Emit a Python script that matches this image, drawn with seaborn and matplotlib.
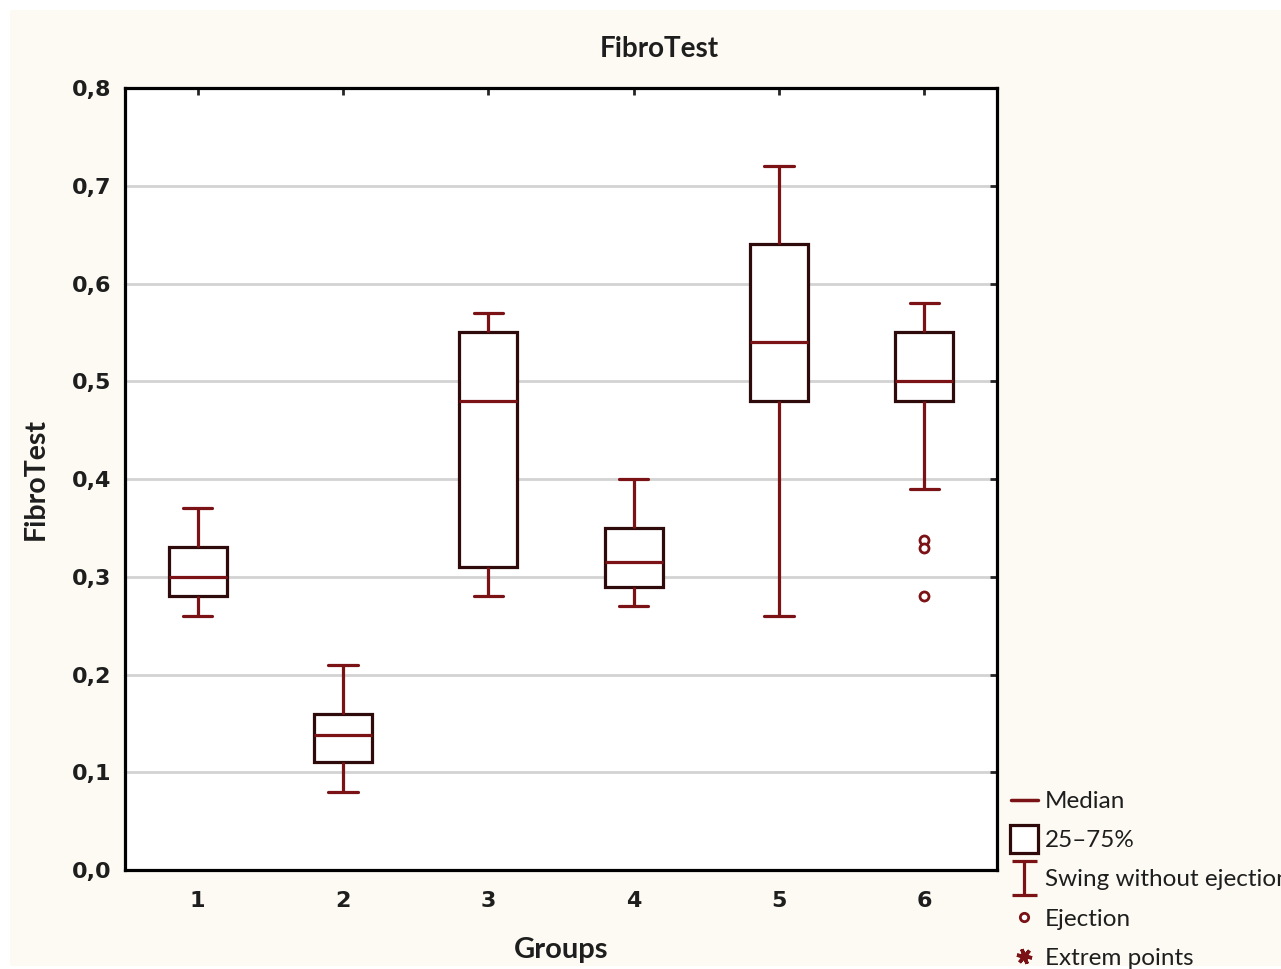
import numpy as np
import pandas as pd
import matplotlib
matplotlib.use("Agg")
import matplotlib.pyplot as plt
from matplotlib.lines import Line2D
from matplotlib.path import Path
from matplotlib.patches import Rectangle
import seaborn as sns

# box statistics
groups = ["1", "2", "3", "4", "5", "6"]
whisker_low = [0.26, 0.08, 0.28, 0.27, 0.26, 0.39]
q1 = [0.28, 0.11, 0.31, 0.29, 0.48, 0.48]
median = [0.30, 0.138, 0.48, 0.315, 0.54, 0.50]
q3 = [0.33, 0.16, 0.55, 0.35, 0.64, 0.55]
whisker_high = [0.37, 0.21, 0.57, 0.40, 0.72, 0.58]

outlier_group = ["6", "6", "6"]
outlier_values = [0.338, 0.329, 0.28]

ytick_values = [0.0, 0.1, 0.2, 0.3, 0.4, 0.5, 0.6, 0.7, 0.8]
ytick_labels = ["0,0", "0,1", "0,2", "0,3", "0,4", "0,5", "0,6", "0,7", "0,8"]

legend_labels = ["Median", "25\u201375%", "Swing without ejection", "Ejection", "Extrem points"]

RED = "#7b1216"
DARK = "#2e0a0b"
CREAM = "#fcfaf2"

# five points per group -> seaborn's quartiles land exactly on the read values
rows = []
for g, a, b, c, d, e in zip(groups, whisker_low, q1, median, q3, whisker_high):
    for v in (a, b, c, d, e):
        rows.append({"Groups": g, "FibroTest": v})
df = pd.DataFrame(rows)

sns.set_style("white")

fig = plt.figure(figsize=(12.81, 9.69), dpi=100, facecolor="white")
fig.patches.append(Rectangle((10 / 1281, 3 / 969), 1 - 10 / 1281, 1 - 13 / 969,
                             transform=fig.transFigure, facecolor=CREAM,
                             edgecolor="none", zorder=-10))
ax = fig.add_axes([125 / 1281, 1 - 870 / 969, 872 / 1281, 782 / 969])
ax.set_facecolor("white")

sns.boxplot(data=df, x="Groups", y="FibroTest", order=groups, whis=(0, 100),
            width=0.4, showfliers=False, ax=ax,
            boxprops=dict(facecolor="white", edgecolor=DARK, linewidth=2.3),
            medianprops=dict(color=RED, linewidth=2.3),
            whiskerprops=dict(color=RED, linewidth=2.3),
            capprops=dict(color=RED, linewidth=2.3),
            capwidths=0.2)

sns.stripplot(x=outlier_group, y=outlier_values, order=groups, jitter=False,
              color="white", edgecolor=RED, linewidth=2, size=6.5, ax=ax, zorder=4)

ax.set_xlim(-0.5, 5.5)
ax.set_ylim(0, 0.8)
ax.set_yticks(ytick_values, ytick_labels)
ax.yaxis.grid(True, color="#d3d3d3", linewidth=2)
ax.set_axisbelow(True)
for s in ax.spines.values():
    s.set_visible(True)
    s.set_color("black")
    s.set_linewidth(2.3)
ax.tick_params(direction="in", length=5, width=2, top=True, right=True,
               labelsize=16, labelcolor="#1e1e1e")
ax.tick_params(axis="x", pad=15)
ax.tick_params(axis="y", pad=10)
for lab in ax.get_xticklabels() + ax.get_yticklabels():
    lab.set_fontfamily("DejaVu Sans")
    lab.set_fontweight("bold")

ax.set_xlabel("Groups", fontsize=21, fontweight="bold", family="Lato", color="#1e1e1e")
ax.set_ylabel("FibroTest", fontsize=20.5, fontweight="bold", family="Lato", color="#1e1e1e")
ax.xaxis.set_label_coords(0.5, -0.086)
ax.yaxis.set_label_coords(-0.088, 0.5)

fig.text(659 / 1281, 1 - 49 / 969, "FibroTest", ha="center", va="center",
         fontsize=20, fontweight="bold", family="Lato", color="#1e1e1e")

# legend markers
ibeam = Path([(-0.75, 1), (0.75, 1), (0, 1), (0, -1), (-0.75, -1), (0.75, -1)],
             [Path.MOVETO, Path.LINETO, Path.MOVETO, Path.LINETO, Path.MOVETO, Path.LINETO])
handles = [
    Line2D([], [], color=RED, linewidth=2.5),
    Line2D([], [], marker="s", markersize=20, markerfacecolor="white",
           markeredgecolor=DARK, markeredgewidth=2.3, linestyle="None"),
    Line2D([], [], marker=ibeam, markersize=24, color=RED, markeredgewidth=2.3,
           linestyle="None"),
    Line2D([], [], marker="o", markersize=6, markerfacecolor="white",
           markeredgecolor=RED, markeredgewidth=2, linestyle="None"),
    Line2D([], [], marker=(6, 2, 20), markersize=11, color=RED, markeredgewidth=2.5,
           linestyle="None"),
]
fig.legend(handles, legend_labels, loc="upper left",
           bbox_to_anchor=(1011 / 1281, 1 - 791 / 969), frameon=False,
           prop={"family": "Lato", "size": 17.5}, handlelength=1.1,
           handletextpad=0.3, labelspacing=0.75, borderpad=0, borderaxespad=0,
           labelcolor="#1e1e1e")

fig.savefig("out.png", dpi=100, facecolor=fig.get_facecolor())
